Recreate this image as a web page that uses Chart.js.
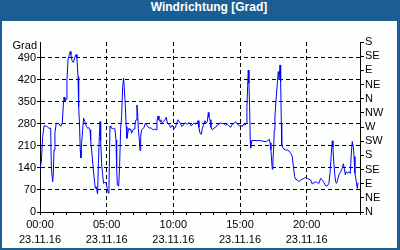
<!DOCTYPE html>
<html>
<head>
<meta charset="utf-8">
<script src="https://cdn.jsdelivr.net/npm/chart.js@4.4.0/dist/chart.umd.min.js"></script>
<style>
  body { margin: 0; }
  #frame { position: relative; width: 400px; height: 250px; background: #1b5e93; overflow: hidden; }
  #inner { position: absolute; left: 2px; top: 21px; width: 395px; height: 227px; background: #fcfffc; }
  #title { position: absolute; left: 18px; top: 0; width: 382px; height: 21px; line-height: 21px; text-align: center;
           color: #fff; font: bold 12px "Liberation Sans", Arial, sans-serif; }
  #chart { position: absolute; left: 0; top: 0; }
</style>
</head>
<body>
<div id="frame">
  <div id="inner"></div>
  <div id="title">Windrichtung [Grad]</div>
  <canvas id="chart" width="400" height="250"></canvas>
</div>
<script>
// time of day in hours (23.11.16) and wind direction in degrees
const hours = [
  0.00, 0.10, 0.20, 0.30, 0.50, 0.67, 0.80, 0.85, 0.95, 1.00, 1.05, 1.12, 1.22, 1.42, 1.55, 1.67, 1.75, 1.80, 1.87, 1.95,
  2.02, 2.10, 2.20, 2.27, 2.32, 2.40, 2.50, 2.60, 2.70, 2.77, 2.85, 2.90, 2.97, 3.02, 3.07, 3.12, 3.20, 3.27, 3.37, 3.47,
  3.57, 3.67, 3.75, 3.80, 3.87, 3.97, 4.05, 4.15, 4.22, 4.32, 4.37, 4.45, 4.50, 4.55, 4.62, 4.70, 4.77, 4.87, 4.95, 5.05,
  5.12, 5.17, 5.25, 5.32, 5.42, 5.52, 5.62, 5.70, 5.75, 5.80, 5.90, 5.97, 6.05, 6.12, 6.20, 6.27, 6.32, 6.40, 6.47, 6.52,
  6.60, 6.67, 6.75, 6.80, 6.87, 6.97, 7.05, 7.12, 7.20, 7.27, 7.32, 7.37, 7.45, 7.50, 7.55, 7.62, 7.70, 7.80, 7.90, 8.00,
  8.10, 8.20, 8.30, 8.40, 8.50, 8.60, 8.70, 8.77, 8.85, 8.92, 9.00, 9.07, 9.17, 9.27, 9.37, 9.47, 9.55, 9.62, 9.70, 9.80,
  9.92, 10.05, 10.15, 10.25, 10.35, 10.45, 10.55, 10.65, 10.75, 10.85, 10.95, 11.05, 11.15, 11.25, 11.35, 11.45, 11.55, 11.65, 11.75, 11.85,
  11.92, 12.00, 12.10, 12.17, 12.27, 12.37, 12.47, 12.55, 12.62, 12.67, 12.75, 12.82, 12.92, 13.05, 13.17, 13.30, 13.42, 13.55, 13.67, 13.80,
  13.92, 14.05, 14.17, 14.30, 14.42, 14.55, 14.67, 14.77, 14.87, 14.97, 15.07, 15.17, 15.27, 15.37, 15.47, 15.52, 15.57, 15.62, 15.67, 15.72,
  15.77, 15.80, 15.85, 15.90, 16.05, 16.30, 16.55, 16.80, 16.97, 17.10, 17.20, 17.25, 17.32, 17.37, 17.42, 17.47, 17.52, 17.57, 17.62, 17.70,
  17.80, 17.87, 17.93, 18.00, 18.05, 18.10, 18.13, 18.20, 18.30, 18.42, 18.55, 18.67, 18.80, 18.92, 19.00, 19.10, 19.17, 19.30, 19.42, 19.55,
  19.67, 19.80, 19.92, 20.05, 20.17, 20.30, 20.42, 20.55, 20.67, 20.80, 20.92, 21.05, 21.17, 21.30, 21.42, 21.55, 21.67, 21.75, 21.85, 21.92,
  21.97, 22.02, 22.10, 22.17, 22.25, 22.32, 22.42, 22.55, 22.67, 22.75, 22.82, 22.90, 22.97, 23.07, 23.17, 23.27, 23.35, 23.42, 23.50, 23.55,
  23.62, 23.70, 23.80, 23.85
];
const degrees = [
  137, 160, 240, 273, 273, 266, 266, 140, 96, 124, 197, 252, 282, 280, 272, 283, 340, 365, 351, 358,
  420, 483, 500, 510, 500, 481, 475, 489, 500, 489, 430, 335, 270, 197, 172, 218, 261, 298, 287, 273,
  266, 268, 261, 229, 197, 150, 112, 75, 80, 57, 140, 240, 287, 229, 155, 118, 91, 95, 91, 75,
  60, 75, 273, 269, 264, 266, 264, 229, 139, 86, 82, 144, 266, 303, 398, 425, 395, 335, 271, 234,
  255, 266, 261, 264, 250, 261, 264, 282, 293, 340, 318, 266, 229, 195, 240, 261, 264, 268, 282, 276,
  271, 266, 268, 264, 261, 264, 261, 287, 305, 293, 287, 293, 283, 287, 293, 301, 283, 282, 276, 268,
  276, 266, 268, 282, 293, 287, 279, 271, 276, 283, 282, 279, 283, 282, 273, 279, 283, 279, 282, 290,
  269, 250, 247, 264, 277, 290, 282, 287, 316, 302, 293, 269, 261, 266, 269, 276, 279, 283, 281, 281,
  276, 279, 274, 269, 279, 281, 287, 281, 276, 274, 276, 271, 279, 276, 281, 335, 398, 451, 409, 335,
  229, 203, 218, 227, 227, 227, 227, 224, 224, 227, 231, 220, 197, 165, 136, 165, 197, 261, 302, 356,
  409, 446, 420, 467, 414, 282, 213, 206, 199, 197, 197, 194, 187, 176, 146, 112, 104, 102, 96, 102,
  104, 107, 110, 107, 104, 102, 89, 93, 96, 93, 91, 107, 102, 93, 83, 83, 91, 123, 187, 226,
  206, 165, 123, 96, 91, 102, 118, 128, 139, 153, 139, 118, 128, 123, 128, 123, 187, 224, 206, 176,
  123, 102, 75, 93
];
const leftTicks = [0, 70, 140, 210, 280, 350, 420, 490];
const compassTicks = [0, 45, 90, 135, 180, 225, 270, 315, 360, 405, 450, 495, 540];
const compassLabels = ['N', 'NE', 'E', 'SE', 'S', 'SW', 'W', 'NW', 'N', 'NE', 'E', 'SE', 'S'];
const dateLabel = '23.11.16';

const font = { family: '"Liberation Sans", Arial, sans-serif', size: 11 };

const gradLabel = {
  id: 'gradLabel',
  afterDraw(chart) {
    const c = chart.ctx;
    c.save();
    c.font = '11px "Liberation Sans", Arial, sans-serif';
    c.fillStyle = '#000';
    c.textAlign = 'right';
    c.textBaseline = 'middle';
    c.fillText('Grad', chart.chartArea.left - 3, chart.chartArea.top + 4);
    c.restore();
  }
};

const ctx = document.getElementById('chart').getContext('2d');
new Chart(ctx, {
  type: 'line',
  data: {
    datasets: [{
      data: hours.map((h, i) => ({ x: h, y: degrees[i] })),
      borderColor: '#0000ff',
      borderWidth: 1,
      pointRadius: 0,
      tension: 0,
      yAxisID: 'y'
    }]
  },
  options: {
    responsive: false,
    animation: false,
    devicePixelRatio: 1,
    layout: { padding: { top: 42, left: 0, right: 0, bottom: 0 } },
    plugins: { legend: { display: false }, tooltip: { enabled: false } },
    scales: {
      x: {
        type: 'linear',
        min: 0, max: 24,
        afterFit: s => { s.height = 38; },
        afterBuildTicks: s => { s.ticks = []; for (let h = 0; h <= 24; h++) s.ticks.push({ value: h }); },
        ticks: {
          autoSkip: false, maxRotation: 0, padding: 2, color: '#000', font: { ...font, lineHeight: 1.4 },
          callback: v => (v % 5 === 0 && v < 24) ? [String(v).padStart(2, '0') + ':00', dateLabel] : ''
        },
        grid: {
          color: c => (c.tick && c.tick.value % 5 === 0 && c.tick.value > 0 && c.tick.value < 24) ? '#000' : 'rgba(0,0,0,0)',
          tickColor: '#000', tickLength: 3
        },
        border: { color: '#000', dash: [4, 3] }
      },
      y: {
        type: 'linear', position: 'left',
        min: 0, max: 540,
        afterFit: s => { s.width = 40; },
        afterBuildTicks: s => { s.ticks = leftTicks.map(v => ({ value: v })); },
        ticks: { autoSkip: false, padding: 1, color: '#000', font },
        grid: {
          color: c => (c.tick && c.tick.value > 0) ? '#000' : 'rgba(0,0,0,0)',
          tickColor: '#000', tickLength: 3
        },
        border: { color: '#000', dash: [4, 3] }
      },
      compass: {
        type: 'linear', position: 'right',
        min: 0, max: 540,
        afterFit: s => { s.width = 40; },
        afterBuildTicks: s => { s.ticks = compassTicks.map(v => ({ value: v })); },
        ticks: { autoSkip: false, padding: 1, color: '#000', font, callback: (v, i) => compassLabels[i] },
        grid: { drawOnChartArea: false, tickColor: '#000', tickLength: 4 },
        border: { color: '#000' }
      }
    }
  },
  plugins: [gradLabel]
});
</script>
</body>
</html>
